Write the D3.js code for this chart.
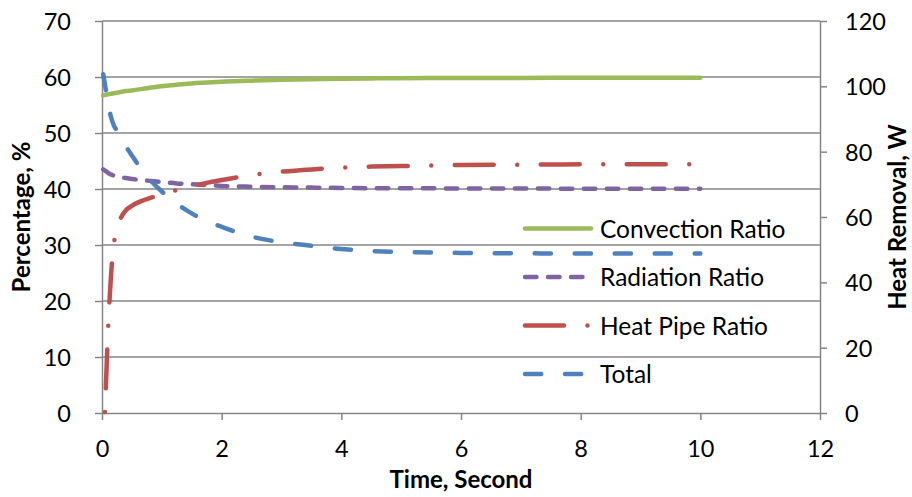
<!DOCTYPE html>
<html>
<head>
<meta charset="utf-8">
<script src="https://cdn.jsdelivr.net/npm/d3@7"></script>
<style>
  html, body { margin: 0; padding: 0; background: #fff; }
  svg { display: block; font-family: Lato, "Open Sans", sans-serif; }
</style>
</head>
<body>
<svg id="chart" width="912" height="497"></svg>
<script>
// Sample times (s)
const time = [0.02, 0.05, 0.1, 0.15, 0.2, 0.25, 0.3, 0.4, 0.5, 0.75, 1.0, 1.25, 1.5, 1.75,
              2.0, 2.5, 3.0, 3.5, 4.0, 4.5, 5.0, 6.0, 7.0, 8.0, 9.0, 10.0];

// Share of heat removed by each path (%), left axis
const convectionRatio = [56.7, 56.8, 56.9, 57.0, 57.1, 57.2, 57.3, 57.5, 57.6, 58.0, 58.35, 58.6, 58.85, 59.0,
                         59.15, 59.35, 59.5, 59.6, 59.7, 59.75, 59.78, 59.82, 59.84, 59.85, 59.85, 59.85];
const radiationRatio  = [43.5, 43.3, 42.9, 42.6, 42.4, 42.25, 42.1, 41.95, 41.8, 41.5, 41.25, 41.0, 40.85, 40.7,
                         40.55, 40.4, 40.3, 40.25, 40.2, 40.15, 40.15, 40.1, 40.1, 40.05, 40.05, 40.05];
const heatPipeRatio   = [null, 0.2, 14.5, 24.5, 30.3, 33.0, 34.5, 36.2, 37.0, 38.2, 39.0, 39.8, 40.5, 41.1,
                         41.6, 42.5, 43.1, 43.5, 43.8, 44.0, 44.1, 44.3, 44.35, 44.4, 44.4, 44.4];
// Total heat removal (W), right axis
const totalHeat       = [103.7, 100.5, 95.0, 90.6, 88.0, 86.4, 84.8, 81.6, 78.8, 72.5, 67.8, 64.1, 61.1, 58.8,
                         57.0, 54.0, 52.3, 51.2, 50.2, 49.6, 49.3, 49.0, 48.9, 48.8, 48.8, 48.8];

const seriesNames = ["Convection Ratio", "Radiation Ratio", "Heat Pipe Ratio", "Total"];

// Axis ticks and titles
const xTicks = [0, 2, 4, 6, 8, 10, 12];
const yLeftTicks = [0, 10, 20, 30, 40, 50, 60, 70];
const yRightTicks = [0, 20, 40, 60, 80, 100, 120];
const xTitle = "Time, Second";
const yLeftTitle = "Percentage, %";
const yRightTitle = "Heat Removal, W";

// ---- layout ----
const plot = { left: 102, right: 820, top: 21, bottom: 413 };
const axisColor = "#868686";
const tickFont = 23.5;
const titleFont = 24;

const svg = d3.select("#chart");

const x = d3.scaleLinear().domain([0, 12]).range([plot.left, plot.right]);
const yL = d3.scaleLinear().domain([0, 70]).range([plot.bottom, plot.top]);
const yR = d3.scaleLinear().domain([0, 120]).range([plot.bottom, plot.top]);

// horizontal gridlines on the primary axis
svg.append("g").attr("class", "grid")
  .selectAll("line")
  .data(yLeftTicks.filter(v => v > 0))
  .join("line")
  .attr("x1", plot.left).attr("x2", plot.right)
  .attr("y1", d => yL(d)).attr("y2", d => yL(d))
  .attr("stroke", axisColor).attr("stroke-width", 1.4);

function styleAxis(g) {
  g.attr("font-family", null).attr("font-size", null);
  g.select(".domain").attr("stroke", axisColor).attr("stroke-width", 1.5);
  g.selectAll(".tick line").attr("stroke", axisColor).attr("stroke-width", 1.5);
  g.selectAll(".tick text").attr("fill", "#000").attr("font-size", tickFont);
}

// left axis
svg.append("g")
  .attr("transform", `translate(${plot.left},0)`)
  .call(d3.axisLeft(yL).tickValues(yLeftTicks).tickSize(7).tickSizeOuter(0).tickPadding(24))
  .call(styleAxis)
  .call(g => g.selectAll(".tick text").attr("dy", "0.36em"));

// right axis
svg.append("g")
  .attr("transform", `translate(${plot.right},0)`)
  .call(d3.axisRight(yR).tickValues(yRightTicks).tickSize(7).tickSizeOuter(0).tickPadding(18))
  .call(styleAxis)
  .call(g => g.selectAll(".tick text").attr("dy", "0.36em"));

// bottom axis
svg.append("g")
  .attr("transform", `translate(0,${plot.bottom})`)
  .call(d3.axisBottom(x).tickValues(xTicks).tickSize(7).tickSizeOuter(0).tickPadding(20))
  .call(styleAxis);

// axis titles
svg.append("text")
  .attr("x", (plot.left + plot.right) / 2).attr("y", 488)
  .attr("text-anchor", "middle").attr("font-weight", "bold").attr("font-size", titleFont)
  .attr("fill", "#000").text(xTitle);

svg.append("text")
  .attr("transform", `translate(29.5,${(plot.top + plot.bottom) / 2}) rotate(-90)`)
  .attr("text-anchor", "middle").attr("font-weight", "bold").attr("font-size", titleFont)
  .attr("fill", "#000").text(yLeftTitle);

svg.append("text")
  .attr("transform", `translate(906,${(plot.top + plot.bottom) / 2}) rotate(-90)`)
  .attr("text-anchor", "middle").attr("font-weight", "bold").attr("font-size", titleFont)
  .attr("fill", "#000").text(yRightTitle);

// ---- series ----
const series = [
  { name: seriesNames[0], values: convectionRatio, y: yL, color: "#9BBB59", dash: null,               legendDash: null },
  { name: seriesNames[1], values: radiationRatio,  y: yL, color: "#8064A2", dash: "11.5 11.5",        legendDash: "11.5 11.5" },
  { name: seriesNames[2], values: heatPipeRatio,   y: yL, color: "#C0504D", dash: "0 23.5 39 23.5",   legendDash: "39 23.5 0 23.5" },
  { name: seriesNames[3], values: totalHeat,       y: yR, color: "#4F81BD", dash: "16.2 23.8",        legendDash: "16.2 23.8" }
];

const lineWidth = 4.5;

series.forEach(s => {
  const pts = time.map((t, i) => [t, s.values[i]]);
  const line = d3.line()
    .defined(d => d[1] != null)
    .x(d => x(d[0]))
    .y(d => s.y(d[1]))
    .curve(d3.curveMonotoneX);
  svg.append("path")
    .datum(pts)
    .attr("d", line)
    .attr("fill", "none")
    .attr("stroke", s.color)
    .attr("stroke-width", lineWidth)
    .attr("stroke-linecap", "round")
    .attr("stroke-linejoin", "round")
    .attr("stroke-dasharray", s.dash);
});

// ---- legend ----
const legendY = [228.5, 277, 325.5, 374];
const legend = svg.append("g").attr("class", "legend");
series.forEach((s, i) => {
  legend.append("line")
    .attr("x1", 525).attr("x2", 591)
    .attr("y1", legendY[i]).attr("y2", legendY[i])
    .attr("stroke", s.color)
    .attr("stroke-width", lineWidth)
    .attr("stroke-linecap", "round")
    .attr("stroke-dasharray", s.legendDash);
  legend.append("text")
    .attr("x", 600).attr("y", legendY[i] + 9)
    .attr("font-size", 24.5).attr("fill", "#000")
    .text(s.name);
});
</script>
</body>
</html>
